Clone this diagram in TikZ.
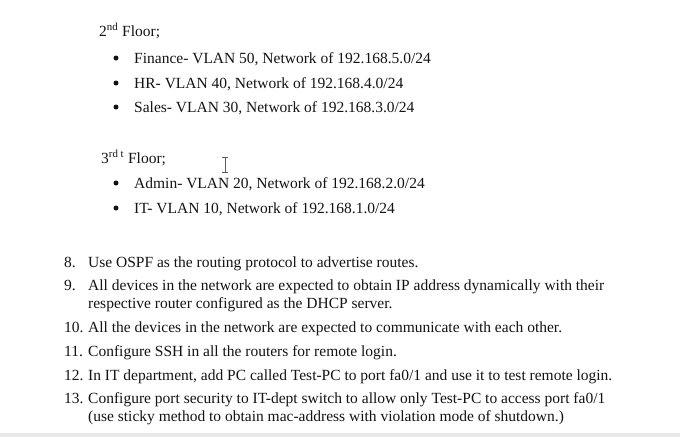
\documentclass[tikz,border=0pt]{standalone}
\usepackage{fontspec}
\setmainfont{Liberation Serif}
\usepackage{xcolor}
\usetikzlibrary{positioning}
\definecolor{doctext}{RGB}{20,20,20}
\definecolor{docband}{RGB}{232,232,232}
\tikzstyle{docline} = [anchor=base west, inner sep=0pt, text=doctext, font=\fontsize{15.5}{18}\selectfont]
\tikzstyle{bulletdot} = [circle, fill=doctext, inner sep=0pt, minimum size=5pt]

\begin{document}
\begin{tikzpicture}[x=1pt, y=-1pt]
\useasboundingbox (0,0) rectangle (680,437);
\fill[white] (0,0) rectangle (680,437);

% Second floor
\node[docline] (floor2) at (99,36) {2\textsuperscript{nd} Floor;};
\node[bulletdot] (b1) at (116,58) {};
\node[docline] (fin) at (134,63) {Finance- VLAN 50, Network of 192.168.5.0/24};
\node[bulletdot] (b2) at (116,83) {};
\node[docline] (hr) at (134,88) {HR- VLAN 40, Network of 192.168.4.0/24};
\node[bulletdot] (b3) at (116,107) {};
\node[docline] (sales) at (134,112) {Sales- VLAN 30, Network of 192.168.3.0/24};

% Third floor
\node[docline] (floor3) at (101,163) {3\textsuperscript{rd t} Floor;};
\node[bulletdot] (b4) at (116,183) {};
\node[docline] (admin) at (134,188) {Admin- VLAN 20, Network of 192.168.2.0/24};
\node[bulletdot] (b5) at (116,208) {};
\node[docline] (it) at (134,213) {IT- VLAN 10, Network of 192.168.1.0/24};

% Text cursor
\draw[doctext!70, line width=1pt] (225,157) -- (225,172);
\draw[doctext!70, line width=0.8pt] (222,157) -- (228,157) (222,172) -- (228,172);

% Numbered tasks
\node[docline] (n8) at (64,267) {8.};
\node[docline] (t8) at (88,267) {Use OSPF as the routing protocol to advertise routes.};
\node[docline] (n9) at (64,290) {9.};
\node[docline] (t9) at (88,290) {All devices in the network are expected to obtain IP address dynamically with their};
\node[docline] (t9b) at (88,308) {respective router configured as the DHCP server.};
\node[docline] (n10) at (64,332) {10.};
\node[docline] (t10) at (88,332) {All the devices in the network are expected to communicate with each other.};
\node[docline] (n11) at (64,356) {11.};
\node[docline] (t11) at (88,356) {Configure SSH in all the routers for remote login.};
\node[docline] (n12) at (64,380) {12.};
\node[docline] (t12) at (88,380) {In IT department, add PC called Test-PC to port fa0/1 and use it to test remote login.};
\node[docline] (n13) at (64,403) {13.};
\node[docline] (t13) at (88,403) {Configure port security to IT-dept switch to allow only Test-PC to access port fa0/1};
\node[docline] (t13b) at (88,421) {(use sticky method to obtain mac-address with violation mode of shutdown.)};

% Bottom band
\fill[docband] (0,433) rectangle (680,437);
\end{tikzpicture}
\end{document}
